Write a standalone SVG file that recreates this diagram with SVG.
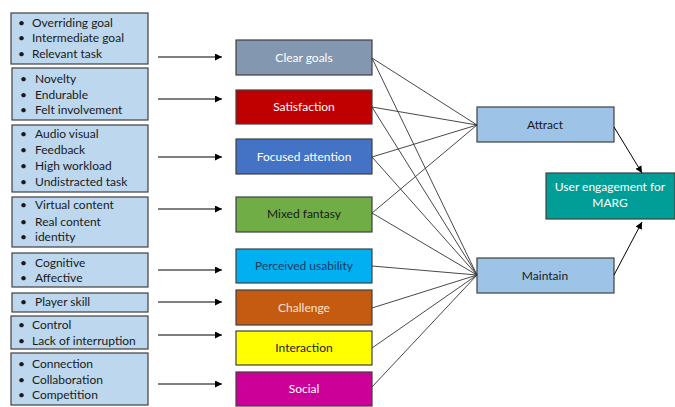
<svg xmlns="http://www.w3.org/2000/svg" width="675" height="407" viewBox="0 0 675 407">
<defs>
<marker id="ah" viewBox="0 0 10 10" refX="10" refY="5" markerWidth="7" markerHeight="7" markerUnits="userSpaceOnUse" orient="auto"><path d="M0,0 L10,5 L0,10 z" fill="#000"/></marker>
</defs>
<style>
text{font-family:Lato,"Open Sans","Liberation Sans",sans-serif;font-size:12px;}
.lb{fill:#BDD7EE;stroke:#404040;stroke-width:1.2;}
.lt{fill:#1a1a1a;}
.mb{stroke:#404040;stroke-width:1.2;}
.ct{text-anchor:middle;}
.ln{stroke:#333;stroke-width:0.9;fill:none;}
.ar{stroke:#000;stroke-width:1;fill:none;marker-end:url(#ah);}
</style>
<rect width="675" height="407" fill="#fff"/>
<g id="left1"><rect class="lb" x="11" y="13" width="137" height="51"/>
<text class="lt" x="18" y="27">•</text><text class="lt" x="32" y="27">Overriding goal</text>
<text class="lt" x="18" y="42">•</text><text class="lt" x="32" y="42">Intermediate goal</text>
<text class="lt" x="18" y="58">•</text><text class="lt" x="32" y="58">Relevant task</text></g>
<g id="left2"><rect class="lb" x="12" y="68" width="136" height="52"/>
<text class="lt" x="20" y="83">•</text><text class="lt" x="35" y="83">Novelty</text>
<text class="lt" x="20" y="99">•</text><text class="lt" x="35" y="99">Endurable</text>
<text class="lt" x="20" y="114">•</text><text class="lt" x="35" y="114">Felt involvement</text></g>
<g id="left3"><rect class="lb" x="12" y="125" width="136" height="67"/>
<text class="lt" x="20" y="138">•</text><text class="lt" x="35" y="138">Audio visual</text>
<text class="lt" x="20" y="154">•</text><text class="lt" x="35" y="154">Feedback</text>
<text class="lt" x="20" y="170">•</text><text class="lt" x="35" y="170">High workload</text>
<text class="lt" x="20" y="186">•</text><text class="lt" x="35" y="186">Undistracted task</text></g>
<g id="left4"><rect class="lb" x="12" y="197" width="136" height="50"/>
<text class="lt" x="20" y="209">•</text><text class="lt" x="35" y="209">Virtual content</text>
<text class="lt" x="20" y="226">•</text><text class="lt" x="35" y="226">Real content</text>
<text class="lt" x="20" y="241">•</text><text class="lt" x="35" y="241">identity</text></g>
<g id="left5"><rect class="lb" x="12" y="253" width="136" height="34"/>
<text class="lt" x="20" y="267">•</text><text class="lt" x="35" y="267">Cognitive</text>
<text class="lt" x="20" y="282">•</text><text class="lt" x="35" y="282">Affective</text></g>
<g id="left6"><rect class="lb" x="12" y="293" width="136" height="19"/>
<text class="lt" x="20" y="306">•</text><text class="lt" x="35" y="306">Player skill</text></g>
<g id="left7"><rect class="lb" x="11" y="316" width="137" height="33"/>
<text class="lt" x="18" y="329">•</text><text class="lt" x="32" y="329">Control</text>
<text class="lt" x="18" y="345">•</text><text class="lt" x="32" y="345">Lack of interruption</text></g>
<g id="left8"><rect class="lb" x="11" y="353" width="137" height="52"/>
<text class="lt" x="18" y="368">•</text><text class="lt" x="32" y="368">Connection</text>
<text class="lt" x="18" y="384">•</text><text class="lt" x="32" y="384">Collaboration</text>
<text class="lt" x="18" y="399">•</text><text class="lt" x="32" y="399">Competition</text></g>

<g id="clear-goals"><rect class="mb" x="236" y="40" width="136" height="35" fill="#8497B0"/><text class="ct" x="304" y="62" fill="#fff">Clear goals</text></g>
<g id="satisfaction"><rect class="mb" x="236" y="90" width="136" height="34" fill="#C00000"/><text class="ct" x="304" y="111" fill="#fff">Satisfaction</text></g>
<g id="focused-attention"><rect class="mb" x="236" y="139" width="136" height="35" fill="#4472C4"/><text class="ct" x="304" y="161" fill="#fff">Focused attention</text></g>
<g id="mixed-fantasy"><rect class="mb" x="236" y="197" width="136" height="35" fill="#70AD47"/><text class="ct" x="304" y="218" fill="#1a1a1a">Mixed fantasy</text></g>
<g id="perceived-usability"><rect class="mb" x="236" y="249" width="136" height="34" fill="#00B0F0"/><text class="ct" x="304" y="270" fill="#1F3864">Perceived usability</text></g>
<g id="challenge"><rect class="mb" x="236" y="290" width="136" height="35" fill="#C55A11"/><text class="ct" x="304" y="312" fill="#FBE5D6">Challenge</text></g>
<g id="interaction"><rect class="mb" x="236" y="331" width="136" height="34" fill="#FFFF00"/><text class="ct" x="304" y="352" fill="#1a1a1a">Interaction</text></g>
<g id="social"><rect class="mb" x="236" y="372" width="136" height="34" fill="#CC0099"/><text class="ct" x="304" y="393" fill="#fff">Social</text></g>

<g id="attract"><rect class="mb" x="477" y="107" width="137" height="35" fill="#9DC3E6"/><text class="ct" x="545" y="129" fill="#1a1a1a">Attract</text></g>
<g id="maintain"><rect class="mb" x="477" y="258" width="137" height="35" fill="#9DC3E6"/><text class="ct" x="545" y="280" fill="#1a1a1a">Maintain</text></g>
<g id="user-engagement"><rect class="mb" x="546" y="173" width="129" height="46" fill="#009E96"/><text class="ct" x="610" y="191" fill="#fff">User engagement for</text><text class="ct" x="610" y="207" fill="#fff">MARG</text></g>

<g id="connectors">
<line class="ar" x1="158" y1="57" x2="222" y2="57"/>
<line class="ar" x1="158" y1="99" x2="222" y2="99"/>
<line class="ar" x1="158" y1="157" x2="222" y2="157"/>
<line class="ar" x1="158" y1="209" x2="222" y2="209"/>
<line class="ar" x1="158" y1="270" x2="222" y2="270"/>
<line class="ar" x1="158" y1="302" x2="222" y2="302"/>
<line class="ar" x1="158" y1="335" x2="222" y2="335"/>
<line class="ar" x1="158" y1="384" x2="222" y2="384"/>
<line class="ln" x1="372" y1="58" x2="477" y2="125"/>
<line class="ln" x1="372" y1="107" x2="477" y2="125"/>
<line class="ln" x1="372" y1="157" x2="477" y2="125"/>
<line class="ln" x1="372" y1="213" x2="477" y2="125"/>
<line class="ln" x1="372" y1="58" x2="477" y2="275"/>
<line class="ln" x1="372" y1="107" x2="477" y2="275"/>
<line class="ln" x1="372" y1="157" x2="477" y2="275"/>
<line class="ln" x1="372" y1="213" x2="477" y2="275"/>
<line class="ln" x1="372" y1="266" x2="477" y2="275"/>
<line class="ln" x1="372" y1="308" x2="477" y2="275"/>
<line class="ln" x1="372" y1="348" x2="477" y2="275"/>
<line class="ln" x1="372" y1="387" x2="477" y2="275"/>
<line class="ar" x1="614" y1="127" x2="642" y2="173"/>
<line class="ar" x1="614" y1="275" x2="642" y2="222"/>
</g>
</svg>
